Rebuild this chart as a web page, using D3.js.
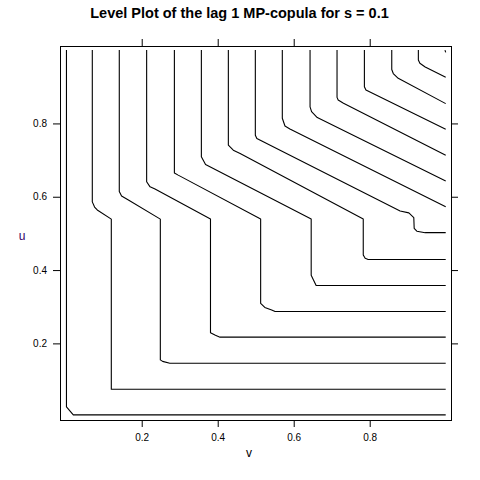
<!DOCTYPE html>
<html>
<head>
<meta charset="utf-8">
<script src="https://cdn.jsdelivr.net/npm/d3@7"></script>
<style>
  html, body { margin: 0; padding: 0; background: #fff; }
  svg { display: block; }
  text { font-family: "Liberation Sans", Arial, sans-serif; }
</style>
</head>
<body>
<script>
// ---- Data ----
const title = "Level Plot of the lag 1 MP-copula for s = 0.1";
const xLabel = "v";
const yLabel = "u";
const tickValues = [0.2, 0.4, 0.6, 0.8];
const levels = [0, 1/14, 2/14, 3/14, 4/14, 5/14, 6/14, 7/14, 8/14, 9/14, 10/14, 11/14, 12/14, 13/14, 1];

// contour lines, each a list of [v, u] vertices
const contour0  = [[0.002,1.0],[0.002,0.027],[0.020,0.005],[1.0,0.005]];
const contour1  = [[0.070,1.0],[0.070,0.586],[0.076,0.572],[0.083,0.564],[0.120,0.539],[0.120,0.075],[1.0,0.075]];
const contour2  = [[0.141,1.0],[0.141,0.614],[0.147,0.602],[0.165,0.591],[0.249,0.539],[0.249,0.155],[0.255,0.151],[0.274,0.146],[1.0,0.146]];
const contour3  = [[0.213,1.0],[0.213,0.641],[0.222,0.627],[0.235,0.621],[0.381,0.539],[0.381,0.229],[0.394,0.222],[0.406,0.217],[1.0,0.217]];
const contour4  = [[0.286,1.0],[0.286,0.665],[0.296,0.659],[0.513,0.539],[0.513,0.309],[0.524,0.298],[0.542,0.291],[0.551,0.287],[1.0,0.287]];
const contour5  = [[0.357,1.0],[0.357,0.709],[0.368,0.688],[0.646,0.539],[0.646,0.386],[0.652,0.373],[0.659,0.358],[1.0,0.358]];
const contour6  = [[0.428,1.0],[0.428,0.741],[0.441,0.727],[0.459,0.718],[0.783,0.539],[0.783,0.441],[0.788,0.432],[0.796,0.429],[1.0,0.429]];
const contour7  = [[0.499,1.0],[0.499,0.768],[0.503,0.759],[0.516,0.752],[0.880,0.561],[0.903,0.556],[0.916,0.543],[0.917,0.514],[0.924,0.506],[0.946,0.502],[1.0,0.502]];
const contour8  = [[0.570,1.0],[0.570,0.814],[0.577,0.793],[0.590,0.785],[1.0,0.573]];
const contour9  = [[0.643,1.0],[0.643,0.845],[0.647,0.832],[0.662,0.816],[1.0,0.643]];
const contour10 = [[0.714,1.0],[0.714,0.871],[0.717,0.864],[0.731,0.855],[1.0,0.713]];
const contour11 = [[0.786,1.0],[0.786,0.900],[0.790,0.891],[1.0,0.784]];
const contour12 = [[0.858,1.0],[0.858,0.947],[0.862,0.936],[0.875,0.923],[1.0,0.854]];
const contour13 = [[0.928,1.0],[0.928,0.973],[0.932,0.964],[0.946,0.954],[1.0,0.926]];
const contour14 = [[0.998,1.0],[1.0,0.994]];

const contours = [contour0, contour1, contour2, contour3, contour4, contour5, contour6, contour7,
                  contour8, contour9, contour10, contour11, contour12, contour13, contour14];

// ---- Layout ----
const W = 480, H = 480;
const panel = { left: 60, right: 451, top: 46, bottom: 420 };

const svg = d3.select("body").append("svg").attr("width", W).attr("height", H);

const x = d3.scaleLinear().domain([-0.0150, 1.0139]).range([panel.left, panel.right]);
const y = d3.scaleLinear().domain([-0.0090, 1.0112]).range([panel.bottom, panel.top]);

// Title
svg.append("text")
  .attr("x", 239.5).attr("y", 17.5)
  .attr("text-anchor", "middle")
  .attr("font-size", "14.5px").attr("font-weight", "bold")
  .attr("fill", "#000")
  .text(title);

// contour lines
const line = d3.line().x(d => x(d[0])).y(d => y(d[1]));
svg.append("g")
  .selectAll("path")
  .data(contours)
  .join("path")
  .attr("d", line)
  .attr("fill", "none")
  .attr("stroke", "#000")
  .attr("stroke-width", 1.1)
  .attr("stroke-linejoin", "round");

// Axes
const fmt = d3.format(".1f");
function styleAxis(g) {
  g.select(".domain").remove();
  g.selectAll(".tick line").attr("stroke", "#000").attr("stroke-width", 1);
  g.selectAll(".tick text").attr("font-size", "10px").attr("fill", "#000")
    .attr("font-family", "'Liberation Sans', Arial, sans-serif");
}
svg.append("g").attr("transform", `translate(0,${panel.bottom})`)
  .call(d3.axisBottom(x).tickValues(tickValues).tickSize(7).tickPadding(7).tickFormat(fmt))
  .call(styleAxis);
svg.append("g").attr("transform", `translate(0,${panel.top})`)
  .call(d3.axisTop(x).tickValues(tickValues).tickSize(7).tickFormat(""))
  .call(styleAxis);
svg.append("g").attr("transform", `translate(${panel.left},0)`)
  .call(d3.axisLeft(y).tickValues(tickValues).tickSize(7).tickPadding(6).tickFormat(fmt))
  .call(styleAxis);
svg.append("g").attr("transform", `translate(${panel.right},0)`)
  .call(d3.axisRight(y).tickValues(tickValues).tickSize(7).tickFormat(""))
  .call(styleAxis);

// panel border
svg.append("rect")
  .attr("x", panel.left + 0.5).attr("y", panel.top + 0.5)
  .attr("width", panel.right - panel.left).attr("height", panel.bottom - panel.top)
  .attr("fill", "none").attr("stroke", "#000").attr("stroke-width", 1);

// axis labels
svg.append("text")
  .attr("x", 249).attr("y", 457)
  .attr("text-anchor", "middle")
  .attr("font-size", "12px").attr("fill", "#000")
  .text(xLabel);
svg.append("text")
  .attr("x", 22).attr("y", 240)
  .attr("text-anchor", "middle")
  .attr("font-size", "12px").attr("fill", "#330066")
  .text(yLabel);
</script>
</body>
</html>
